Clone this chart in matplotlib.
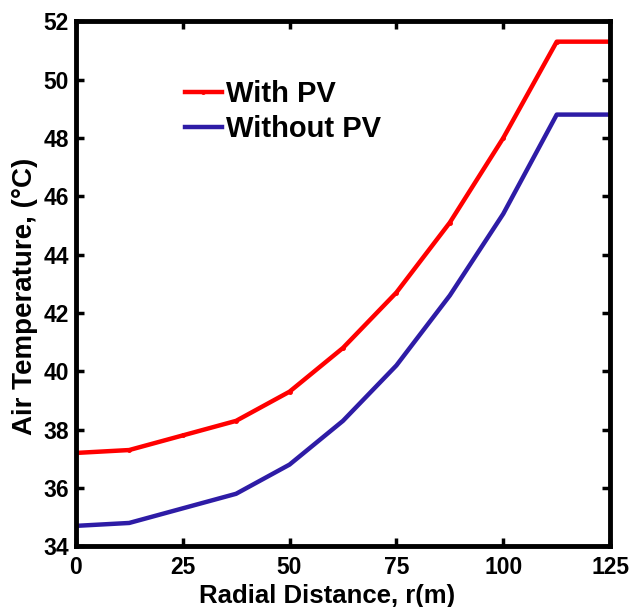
import numpy as np
import matplotlib
matplotlib.use('Agg')
from matplotlib import pyplot as plt

# radial distance (m)
r = [0, 12.5, 25, 37.5, 50, 62.5, 75, 87.5, 100, 112.5, 125]

# air temperature (C)
with_pv = [37.2, 37.3, 37.8, 38.3, 39.3, 40.8, 42.7, 45.1, 48.0, 51.3, 51.3]
without_pv = [34.7, 34.8, 35.3, 35.8, 36.8, 38.3, 40.2, 42.6, 45.4, 48.8, 48.8]

xticks = [0, 25, 50, 75, 100, 125]
yticks = [34, 36, 38, 40, 42, 44, 46, 48, 50, 52]

plt.rcParams['font.family'] = ['Liberation Sans Narrow', 'Liberation Sans', 'DejaVu Sans']
plt.rcParams['font.weight'] = 'bold'

fig = plt.figure(figsize=(6.31, 6.07), dpi=100)
ax = fig.add_axes([0.120, 0.100, 0.847, 0.865])

ax.plot(r, with_pv, color='#ff0000', lw=3.2, marker='.', markersize=5, label='With PV')
ax.plot(r, without_pv, color='#2e1ca6', lw=3.2, label='Without PV')

ax.set_xlim(0, 125)
ax.set_ylim(34, 52)
ax.set_xticks(xticks)
ax.set_yticks(yticks)
ax.tick_params(direction='in', length=6, width=2.5, labelsize=16.5, top=True, right=True)
ax.tick_params(axis='x', pad=7)
ax.tick_params(axis='y', pad=5)
for s in ax.spines.values():
    s.set_linewidth(3.5)

ax.set_xlabel('Radial Distance, r(m)', fontsize=18.5, fontweight='bold',
              family=['Liberation Sans', 'DejaVu Sans'])
ax.xaxis.set_label_coords(0.47, -0.072, transform=ax.transAxes)
ax.xaxis.label.set_va('top')
ax.set_ylabel('Air Temperature, (°C)', fontsize=20, fontweight='bold',
              family=['Liberation Sans', 'DejaVu Sans'])
ax.yaxis.set_label_coords(-0.071, 0.476, transform=ax.transAxes)

leg = ax.legend(loc='upper left', bbox_to_anchor=(0.183, 0.91), frameon=False,
                prop={'family': ['Liberation Sans', 'DejaVu Sans'], 'weight': 'bold', 'size': 21},
                handlelength=1.25, handletextpad=0.15, labelspacing=0.25, borderaxespad=0)

fig.savefig('out.png', dpi=100)
